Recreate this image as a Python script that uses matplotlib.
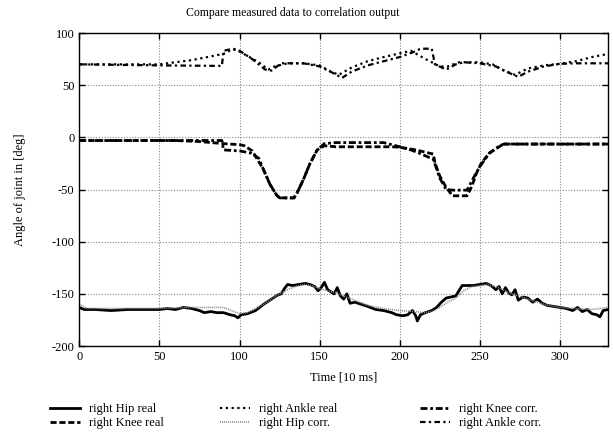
import numpy as np
import matplotlib
matplotlib.use("Agg")
import matplotlib.pyplot as plt

plt.rcParams["font.family"] = ["Liberation Serif", "DejaVu Serif"]
plt.rcParams["axes.unicode_minus"] = False

# ---- data (time in 10 ms, angle in deg) ----
hip_real_t = [0, 3, 10, 20, 30, 40, 50, 55, 60, 65, 70, 75, 78, 82, 86, 90, 94, 97, 99, 101,
              105, 110, 115, 118, 121, 124, 126, 128, 130, 133, 137, 141, 144, 147, 149, 151,
              153, 155, 157, 159, 161, 163, 165, 167, 169, 172, 176, 180, 185, 190, 195, 198,
              202, 205, 208, 210, 211, 213, 216, 220, 223, 226, 229, 232, 235, 237, 239, 242,
              246, 250, 254, 257, 260, 262, 264, 266, 268, 270, 272, 274, 277, 280, 283, 286,
              289, 292, 296, 300, 304, 308, 311, 314, 317, 320, 323, 325, 327, 330]
hip_real = [-163, -165, -165, -166, -165, -165, -165, -164, -165, -163, -164, -166, -168, -167,
            -168, -168, -170, -171, -173, -170, -169, -166, -160, -157, -154, -151, -150, -145,
            -141, -142, -141, -140, -141, -143, -147, -144, -139, -146, -148, -150, -144, -152,
            -155, -150, -159, -158, -160, -162, -165, -166, -168, -170, -171, -170, -166, -171,
            -176, -170, -168, -166, -163, -158, -154, -153, -152, -147, -142, -142, -142, -141,
            -140, -142, -146, -143, -150, -144, -149, -151, -146, -156, -153, -154, -158, -155,
            -159, -161, -162, -163, -164, -166, -163, -167, -165, -169, -170, -172, -166, -165]

hip_corr_t = [0, 5, 50, 70, 80, 90, 95, 100, 105, 110, 115, 120, 125, 130, 135, 140, 145, 150,
              160, 170, 180, 190, 200, 210, 215, 220, 225, 230, 235, 240, 245, 250, 255, 260,
              270, 280, 290, 300, 310, 320, 330]
hip_corr = [-160, -164, -164, -163, -163, -163, -166, -169, -168, -164, -160, -155, -150, -146,
            -143, -141, -142, -145, -149, -155, -161, -164, -166, -167, -168, -167, -163, -158,
            -154, -147, -143, -142, -141, -143, -150, -155, -160, -163, -164, -165, -163]

knee_real_t = [0, 60, 75, 90, 100, 103, 108, 115, 119, 123, 125, 134, 136, 140, 144, 148.5,
               153, 160, 195, 200, 210, 221, 222, 225, 229, 233, 242, 245, 248, 251, 256, 262.5,
               264.6, 330]
knee_real = [-3, -3, -4, -6, -7, -8, -13, -31, -45, -55, -58, -58, -53, -40, -25, -12, -8, -9,
             -9, -9.5, -12, -16, -24.5, -37, -48, -56, -56, -47, -34, -24.5, -15, -8.6, -6.4, -6.4]

knee_corr_t = [0, 89, 90, 100, 107, 112, 115, 119, 123, 125, 134, 136, 140, 144, 148.5, 153,
               160, 190, 200, 207, 212, 221, 225, 229, 233, 242, 246, 250, 256, 262.5, 265, 330]
knee_corr = [-3, -3, -12, -13, -15, -20, -31, -45, -55, -58, -58, -53, -40, -25, -12, -6, -5,
             -5, -9, -12, -15, -21, -39, -50, -50.6, -50.6, -39, -28, -15, -8, -6.4, -6.4]

ankle_real_t = [0, 50, 70, 90, 95, 98, 105, 112, 118, 122, 130, 140, 150, 157, 162, 170, 180,
                190, 200, 207, 215, 225, 230, 237, 250, 258, 265, 272, 280, 290, 300, 310, 320, 330]
ankle_real = [70, 70, 74, 80, 84, 84, 78, 72, 65, 68, 71, 71, 69, 63, 60, 67, 73, 77, 80.5, 83,
              76, 68, 68, 72, 72, 70, 64, 60, 66, 69, 70.5, 73, 77, 80]

ankle_corr_t = [0, 50, 89, 90, 96, 100, 108, 116, 120, 126, 140, 150, 158, 164, 170, 180, 190,
                200, 209, 213, 220, 222, 229, 235, 240, 250, 260, 268, 274, 280, 290, 300, 310,
                320, 330]
ankle_corr = [70, 69, 68.5, 83, 85, 83, 75, 65, 64, 71, 71, 68, 62, 57, 63, 69, 73, 77, 82, 85,
              85, 70, 65, 70, 72, 71, 68, 62, 58, 63, 68, 70.5, 71, 71, 71]

fig = plt.figure(figsize=(6.13, 4.32), dpi=100)
ax = fig.add_axes([0.1294, 0.199, 0.8624, 0.7245])

l1, = ax.plot(hip_real_t, hip_real, color="black", lw=2.0, label="right Hip real")
l2, = ax.plot(knee_real_t, knee_real, color="black", lw=2.0, ls=(0, (2.2, 1.0)),
              label="right Knee real")
l3, = ax.plot(ankle_real_t, ankle_real, color="black", lw=1.6, ls=(0, (1.0, 1.6)),
              label="right Ankle real")
l4, = ax.plot(hip_corr_t, hip_corr, color="#888888", lw=1.2, ls=(0, (0.6, 0.6)),
              label="right Hip corr.")
l5, = ax.plot(knee_corr_t, knee_corr, color="black", lw=2.0, ls=(0, (2.5, 1.0, 1.0, 1.0)),
              label="right Knee corr.")
l6, = ax.plot(ankle_corr_t, ankle_corr, color="black", lw=1.6, ls=(0, (2.5, 1.5, 1.0, 1.5)),
              label="right Ankle corr.")

ax.set_xlim(0, 330)
ax.set_ylim(-200, 100)
ax.set_xticks(np.arange(0, 301, 50))
ax.set_yticks(np.arange(-200, 101, 50))
ax.tick_params(direction="in", length=4, width=1, top=True, right=True, labelsize=9)
ax.grid(True, color="#888888", ls=(0, (1, 1.5)), lw=0.8)
for s in ax.spines.values():
    s.set_linewidth(1.0)

ax.set_xlabel("Time [10 ms]", fontsize=9, labelpad=6)
ax.set_ylabel("Angle of joint in [deg]", fontsize=9)
ax.yaxis.set_label_coords(-0.1, 0.5)
fig.text(293 / 613, 1 - 13 / 432, "Compare measured data to correlation output",
         ha="center", va="center", fontsize=8.5)

# three two-row legend columns, placed like the original key
for handles, x0 in [((l1, l2), 50), ((l3, l4), 220), ((l5, l6), 420)]:
    leg = fig.legend(handles=list(handles), loc="upper left",
                     bbox_to_anchor=(x0 / 613, 1 - 403 / 432), frameon=False,
                     fontsize=9, handlelength=2.4, handletextpad=0.7,
                     labelspacing=0.15, borderpad=0, borderaxespad=0)

fig.savefig("out.png", dpi=100)
